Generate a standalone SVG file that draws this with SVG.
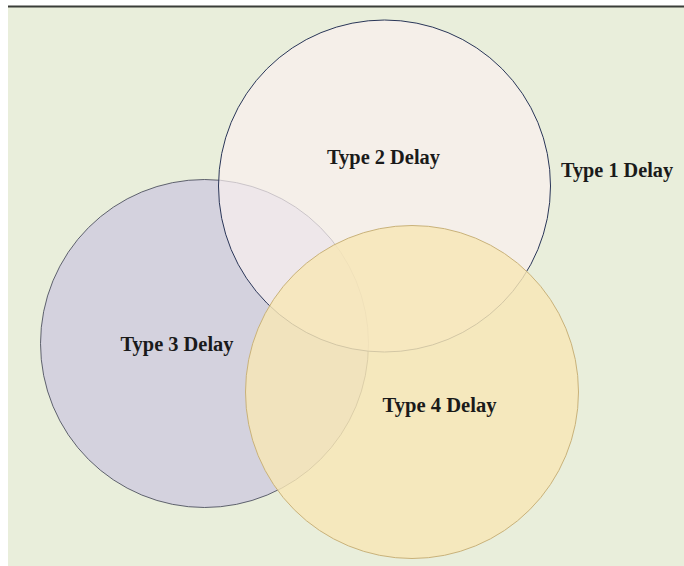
<svg xmlns="http://www.w3.org/2000/svg" width="684" height="566" viewBox="0 0 684 566">
  <style>
    .lbl { font-family: "Liberation Serif", "Times New Roman", serif; font-weight: bold; font-size: 20px; fill: #1a1a1a; text-anchor: middle; }
  </style>
  <rect x="0" y="0" width="684" height="566" fill="#ffffff"/>
  <rect x="8" y="7" width="676" height="559" fill="#e9eedb"/>
  <line x1="8" y1="6.5" x2="684" y2="6.5" stroke="#3a3d38" stroke-width="2"/>
  <g id="type3">
    <circle cx="204.5" cy="343.5" r="164" fill="#d4d2de" stroke="#3c4050" stroke-width="0.8"/>
  </g>
  <g id="type2">
    <circle cx="384.5" cy="186" r="166" fill="#f9f0f0" fill-opacity="0.7" stroke="#2a3658" stroke-width="1"/>
  </g>
  <g id="type4">
    <circle cx="412" cy="392" r="166.5" fill="#f8e7b6" fill-opacity="0.82" stroke="#c9b27a" stroke-width="1"/>
  </g>
  <g id="labels">
    <text class="lbl" x="383.5" y="163.5" textLength="113" lengthAdjust="spacingAndGlyphs">Type 2 Delay</text>
    <text class="lbl" x="617" y="177" textLength="112" lengthAdjust="spacingAndGlyphs">Type 1 Delay</text>
    <text class="lbl" x="177" y="351" textLength="113" lengthAdjust="spacingAndGlyphs">Type 3 Delay</text>
    <text class="lbl" x="439.5" y="412" textLength="114" lengthAdjust="spacingAndGlyphs">Type 4 Delay</text>
  </g>
</svg>
